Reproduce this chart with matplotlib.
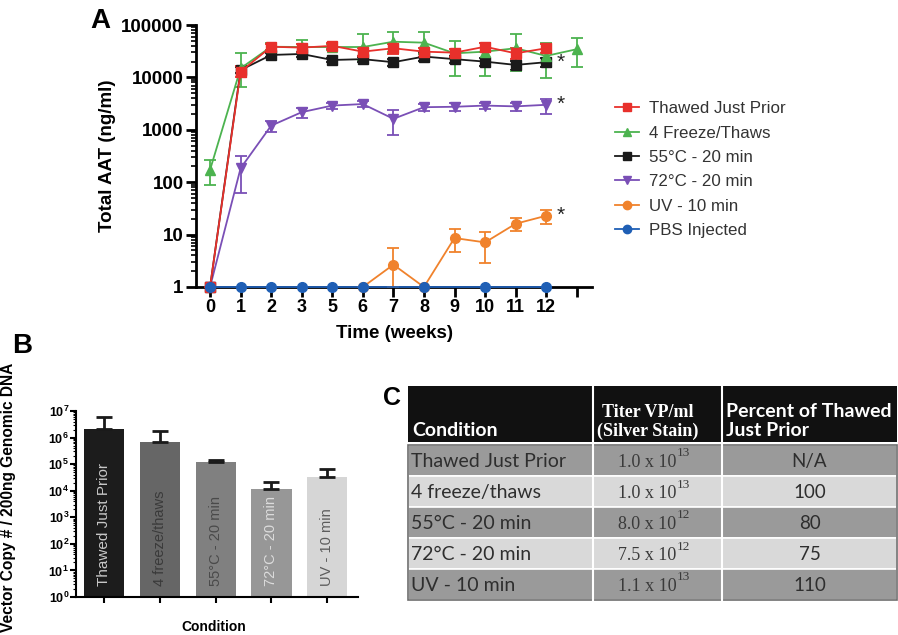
"""Serum AAT time course, vector copy bars and titer table (panels A-C)."""
import numpy as np
import matplotlib
matplotlib.use("Agg")
import matplotlib.pyplot as plt
from matplotlib.lines import Line2D
from matplotlib.patches import Rectangle
from matplotlib.ticker import LogLocator, NullFormatter

plt.rcParams["font.family"] = ["Liberation Sans", "DejaVu Sans"]
plt.rcParams["mathtext.fontset"] = "custom"
plt.rcParams["mathtext.rm"] = "Liberation Sans"
plt.rcParams["mathtext.bf"] = "Liberation Sans:bold"

# ---------------- panel A data ----------------
week_labels = ["0", "1", "2", "3", "5", "6", "7", "8", "9", "10", "11", "12", ""]

thawed = [1, 12900, 38500, 37000, 40000, 31000, 36000, 31000, 29700, 38500, 28800, 36000]
thawed_lo = [1, 10000, 33000, 31000, 35000, 26000, 28000, 25000, 25000, 30000, 22000, 29000]
thawed_hi = [1, 16500, 44000, 43000, 45000, 37000, 44000, 37000, 35000, 46000, 36000, 43000]

freeze = [172, 14900, 38500, 38000, 38000, 38000, 48000, 46000, 28800, 31000, 36000, 25700, 34500]
freeze_lo = [89, 6500, 33000, 30000, 33000, 21600, 30000, 28000, 10700, 10500, 13500, 9700, 16000]
freeze_hi = [270, 29000, 45000, 52000, 44000, 66000, 75000, 72000, 50000, 45000, 66000, 45000, 57000]

heat55 = [1, 13800, 26800, 28000, 21500, 22300, 19500, 25000, 22300, 20000, 17300, 19500]
heat55_lo = [1, 12000, 24000, 25000, 19500, 20000, 16500, 21000, 19000, 16500, 14000, 16000]
heat55_hi = [1, 15500, 29500, 31000, 23500, 24500, 22500, 29000, 25500, 23500, 20500, 23000]

heat72 = [1, 185, 1200, 2170, 2900, 3100, 1620, 2700, 2750, 2900, 2800, 3000]
heat72_lo = [1, 62, 900, 1700, 2500, 2700, 800, 2300, 2300, 2500, 2300, 2000]
heat72_hi = [1, 310, 1500, 2600, 3300, 3500, 2400, 3100, 3200, 3300, 3300, 3800]

uv_pos = [5, 6, 7, 8, 9, 10, 11]
uv = [1, 2.67, 1, 8.6, 7.1, 16.1, 22.9]
uv_lo = [1, 1, 1, 4.6, 2.9, 11.5, 16.1]
uv_hi = [1, 5.5, 1, 12.8, 11.2, 20.6, 29.7]

pbs_pos = [0, 1, 2, 3, 4, 5, 7, 9, 11]
pbs = [1, 1, 1, 1, 1, 1, 1, 1, 1]

star_series = [heat55[-1], heat72[-1], uv[-1]]

# ---------------- panel B data ----------------
conditions_b = ["Thawed Just Prior", "4 freeze/thaws", "55°C - 20 min", "72°C - 20 min", "UV - 10 min"]
copies = [2.1e6, 6.8e5, 1.2e5, 1.16e4, 3.3e4]
copies_hi = [5.9e6, 1.8e6, 1.45e5, 2.1e4, 6.6e4]
bar_colors = ["#1c1c1c", "#666666", "#808080", "#979797", "#d6d6d6"]
bar_text_colors = ["#c8c8c8", "#3a3a3a", "#4a4a4a", "#dcdcdc", "#5c5c5c"]

# ---------------- panel C data ----------------
table_header = ["Condition", "Titer VP/ml\n(Silver Stain)", "Percent of Thawed\nJust Prior"]
table_conditions = ["Thawed Just Prior", "4 freeze/thaws", "55°C - 20 min", "72°C - 20 min", "UV - 10 min"]
titer_mant = ["1.0", "1.0", "8.0", "7.5", "1.1"]
titer_exp = ["13", "13", "12", "12", "13"]
percent = ["N/A", "100", "80", "75", "110"]

W, H = 898, 635
fig = plt.figure(figsize=(W / 100, H / 100), dpi=100)


def px_axes(x0, y0, x1, y1):
    return fig.add_axes([x0 / W, 1 - y1 / H, (x1 - x0) / W, (y1 - y0) / H])


# ================= panel A =================
ax = px_axes(196, 25, 592, 287)
pos = np.arange(len(week_labels))


def series(x, y, lo, hi, color, marker, ms):
    y = np.asarray(y, float)
    yerr = [y - np.asarray(lo, float), np.asarray(hi, float) - y]
    ax.errorbar(x, y, yerr=yerr, color=color, marker=marker, ms=ms, lw=1.3,
                elinewidth=1.3, capsize=4, capthick=1.3, clip_on=False, zorder=3)


ax.plot(pbs_pos, pbs, color="#1f5fb5", marker="o", ms=7, lw=1.3, clip_on=False, zorder=4)
series(uv_pos, uv, uv_lo, uv_hi, "#f0822c", "o", 7)
series(pos[:12], heat72, heat72_lo, heat72_hi, "#7a4fb6", "v", 7.5)
series(pos[:12], heat55, heat55_lo, heat55_hi, "#1a1a1a", "s", 6.5)
series(pos, freeze, freeze_lo, freeze_hi, "#4cb34f", "^", 7.5)
series(pos[:12], thawed, thawed_lo, thawed_hi, "#e8302b", "s", 6.5)

for v in star_series:
    ax.text(11.35, v, "*", fontsize=15, ha="left", va="center", color="#222222")

ax.set_yscale("log")
ax.set_ylim(1, 1e5)
ax.set_xlim(-0.46, 12.5)
ax.set_xticks(pos)
ax.set_xticklabels(week_labels, fontsize=13, fontweight="bold")
ax.yaxis.set_minor_locator(LogLocator(base=10, subs=np.arange(2, 10), numticks=10))
ax.yaxis.set_minor_formatter(NullFormatter())
ax.set_yticks([1, 10, 100, 1000, 10000, 100000])
ax.set_yticklabels(["1", "10", "100", "1000", "10000", "100000"], fontsize=13.5, fontweight="bold")
for s in ["top", "right"]:
    ax.spines[s].set_visible(False)
for s in ["left", "bottom"]:
    ax.spines[s].set_linewidth(2)
ax.tick_params(which="major", length=7, width=2, pad=2)
ax.tick_params(axis="y", which="minor", length=3.5, width=1.2)
ax.set_xlabel("Time (weeks)", fontsize=13.5, fontweight="bold", labelpad=6)
ax.set_ylabel("Total AAT (ng/ml)", fontsize=13.5, fontweight="bold", labelpad=4)

legend_names = ["Thawed Just Prior", "4 Freeze/Thaws", "55°C - 20 min", "72°C - 20 min",
                "UV - 10 min", "PBS Injected"]
legend_styles = [("#e8302b", "s"), ("#4cb34f", "^"), ("#1a1a1a", "s"), ("#7a4fb6", "v"),
                 ("#f0822c", "o"), ("#1f5fb5", "o")]
handles = [Line2D([], [], color=c, marker=m, ms=6, lw=1.3) for c, m in legend_styles]
fig.legend(handles, legend_names, loc="upper left", bbox_to_anchor=(600 / W, 1 - 86 / H),
           frameon=False, fontsize=12.2, handlelength=1.4, handletextpad=0.6,
           labelspacing=0.55, labelcolor="#333333")

# ================= panel B =================
axb = px_axes(76, 411, 358, 597)
xb = np.arange(len(conditions_b))
copies_arr = np.asarray(copies)
axb.bar(xb, copies_arr, width=0.72, color=bar_colors, bottom=1, zorder=2)
axb.errorbar(xb, copies_arr, yerr=[np.zeros(len(xb)), np.asarray(copies_hi) - copies_arr],
             fmt="none", ecolor="#1a1a1a", elinewidth=2, capsize=6, capthick=2, zorder=3)
for i, name in enumerate(conditions_b):
    axb.text(xb[i], 0.06, name, rotation=90, ha="center", va="bottom",
             fontsize=11 if i == 0 else 10.5, color=bar_text_colors[i],
             transform=axb.get_xaxis_transform(), zorder=4)
axb.set_yscale("log")
axb.set_ylim(1, 1e7)
axb.set_xlim(-0.5, 4.55)
axb.set_xticks(xb)
axb.set_xticklabels([])
axb.set_yticks([10.0 ** k for k in range(8)])
axb.set_yticklabels([r"$\mathbf{10^{%d}}$" % k for k in range(8)], fontsize=9)
axb.yaxis.set_minor_locator(LogLocator(base=10, subs=np.arange(2, 10), numticks=10))
axb.yaxis.set_minor_formatter(NullFormatter())
for s in ["top", "right"]:
    axb.spines[s].set_visible(False)
for s in ["left", "bottom"]:
    axb.spines[s].set_linewidth(1.5)
axb.tick_params(which="major", length=4, width=1.5, pad=1)
axb.tick_params(axis="y", which="minor", length=2, width=0.8)
fig.text(214 / W, 1 - 627 / H, "Condition", fontsize=10, fontweight="bold", ha="center", va="center")
fig.text(9 / W, 1 - 497 / H, "Vector Copy # / 200ng Genomic DNA", fontsize=11.2, fontweight="bold",
         rotation=90, ha="center", va="center")

# ================= panel C (table) and panel letters =================
ov = fig.add_axes([0, 0, 1, 1])
ov.set_xlim(0, W)
ov.set_ylim(H, 0)
ov.set_axis_off()

ov.text(100, 21, "A", fontsize=20, fontweight="bold", ha="center", va="center")
ov.text(22, 346, "B", fontsize=20, fontweight="bold", ha="center", va="center")
ov.text(392, 398, "C", fontsize=18, fontweight="bold", ha="center", va="center")

col_edges = [408, 593, 722, 897]
head_top, head_bot = 386, 442
row_top, row_h = 445, 31
row_colors = ["#9a9a9a", "#d9d9d9"]

ov.add_patch(Rectangle((col_edges[0], head_top), col_edges[-1] - col_edges[0], head_bot - head_top,
                       facecolor="#111111", edgecolor="none"))
for i in range(len(table_conditions)):
    y0 = row_top + i * row_h
    ov.add_patch(Rectangle((col_edges[0], y0), col_edges[-1] - col_edges[0], row_h,
                           facecolor=row_colors[i % 2], edgecolor="white", lw=1.2))
body_bot = row_top + len(table_conditions) * row_h
ov.add_patch(Rectangle((col_edges[0], row_top), col_edges[-1] - col_edges[0], body_bot - row_top,
                       facecolor="none", edgecolor="#6e6e6e", lw=1.2))
for xe in col_edges[1:-1]:
    ov.plot([xe, xe], [head_top, body_bot], color="white", lw=1.5)

ov.text(412, 439, table_header[0], fontsize=14, fontweight="bold", color="white",
        family="Lato", ha="left", va="bottom")
ov.text(648, 422, table_header[1], fontsize=13, fontweight="bold",
        color="white", family="Liberation Serif", ha="center", va="center", linespacing=1.1)
ov.text(726, 421, table_header[2], fontsize=14, fontweight="bold", color="white",
        family="Lato", ha="left", va="center", linespacing=1.1)

tc = (col_edges[1] + col_edges[2]) / 2
pc = (col_edges[2] + col_edges[3]) / 2
for i, name in enumerate(table_conditions):
    yc = row_top + (i + 0.5) * row_h
    ov.text(411, yc + 1, name, fontsize=14, color="#2e2e2e", family="Lato", ha="left", va="center")
    ov.text(tc + 19, yc + 2, f"{titer_mant[i]} x 10", fontsize=13, color="#3a3a3a",
            family="Liberation Serif", ha="right", va="center")
    ov.text(tc + 19, yc - 7, titer_exp[i], fontsize=9.5, color="#3a3a3a",
            family="Liberation Serif", ha="left", va="center")
    ov.text(pc, yc + 1, percent[i], fontsize=13.5, color="#2e2e2e", family="Lato",
            ha="center", va="center")

fig.savefig("out.png", dpi=100)
